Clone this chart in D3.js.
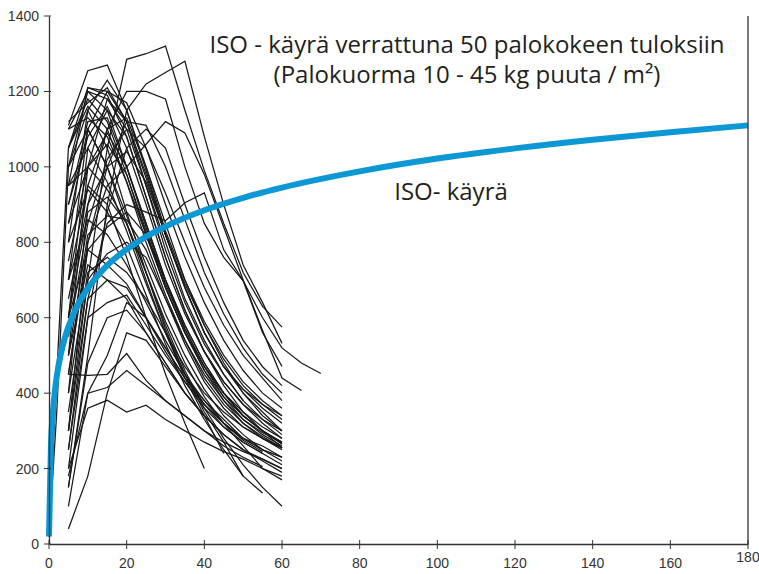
<!DOCTYPE html>
<html>
<head>
<meta charset="utf-8">
<script src="https://cdn.jsdelivr.net/npm/d3@7"></script>
<style>
  html, body { margin: 0; padding: 0; background: #fff; }
  svg { display: block; }
</style>
</head>
<body>
<svg id="chart" width="759" height="574"></svg>
<script>
// ---- Data ----
const xTicks = [0, 20, 40, 60, 80, 100, 120, 140, 160, 180];
const yTicks = [0, 200, 400, 600, 800, 1000, 1200, 1400];

const titleLines = ["ISO - käyrä verrattuna 50 palokokeen tuloksiin", "(Palokuorma 10 - 45 kg puuta / m²)"];
const isoLabel = "ISO- käyrä";

// ISO standard curve (minutes, °C)
const isoMinutes = [0, 0.5, 1, 1.5, 2, 3, 4, 5, 7.5, 10, 15, 20, 25, 30, 40, 50, 60, 80, 100, 120, 140, 160, 180];
const isoTemps   = [20, 261, 349, 404, 445, 502, 544, 576, 636, 678, 739, 781, 815, 842, 885, 918, 945, 988, 1022, 1049, 1072, 1092, 1110];

// 50 fire test curves, sampled at these minutes (null = no reading)
const testMinutes = [0, 2, 5, 10, 15, 20, 25, 30, 35, 40, 45, 50, 55, 60, 65, 70];
const n = null;
const testTemps = [
  [20, n, 300, 700, 1050, 1285, 1300, 1320, 1150, 990, 850, 720, 630, 575],
  [20, n, 150, 500, 900, 1150, 1220, 1250, 1280, 1080, 900, 740, 640, 532],
  [20, n, 1110, 1255, 1270, 1150, 990, 820, 680, 560, 470, 400, 350, 300],
  [20, n, 450, 800, 950, 1000, 1060, 1120, 1090, 980, 840, 700, 566, 440, 407],
  [20, n, 250, 650, 850, 900, 880, 857, 905, 931, 780, 698, 560, 471],
  [20, n, 600, 950, 1100, 1200, 1200, 1180, 1000, 850, 760, 698, 600, 520, 480, 452],
  [20, 350, 1000, 1200, 1180, 1100, 950, 800, 650, 540, 450, 380, 330, 290],
  [20, n, 950, 1210, 1200, 1120, 980, 820, 680, 560, 470, 410, 360, 320],
  [20, n, 800, 1150, 1230, 1150, 1000, 830, 700, 590, 500, 430, 380, 340],
  [20, n, 700, 1100, 1200, 1170, 1050, 900, 760, 640, 540, 460, 400, 360],
  [20, n, 1050, 1180, 1120, 980, 820, 680, 560, 470, 400, 340, 300, 265],
  [20, n, 900, 1080, 1160, 1050, 900, 740, 610, 510, 430, 370, 320, 280],
  [20, n, 500, 1000, 1180, 1120, 950, 780, 640, 530, 450, 380],
  [20, n, 600, 1050, 1150, 1080, 920, 760, 620, 510, 420, 350, 300, 255],
  [20, n, 400, 900, 1100, 1130, 1000, 850, 700, 580, 480, 400, 340, 300],
  [20, n, 1000, 1150, 1050, 880, 720, 570, 450, 350, 270, 180],
  [20, n, 850, 1100, 1000, 850, 700, 560, 440, 340, 240],
  [20, n, 700, 950, 900, 760, 600, 450, 320, 200],
  [20, n, 950, 1000, 940, 850, 720, 590, 480, 390, 320, 260, 200, 170],
  [20, n, 800, 940, 880, 790, 660, 530, 420, 330, 250, 180, 135],
  [20, n, 600, 880, 920, 850, 720, 580, 460, 360, 280, 210, 150, 100],
  [20, n, 1100, 1130, 1080, 960, 820, 680, 560, 460, 390, 340, 300, 270],
  [20, n, 500, 820, 870, 860, 780, 650, 530, 430, 360, 310, 280, 255],
  [20, n, 450, 780, 840, 880, 820, 700, 580, 480, 400, 340, 300, 270],
  [20, n, 350, 700, 770, 800, 760, 650, 540, 450, 380, 330, 295, 270],
  [20, n, 400, 720, 760, 720, 650, 560, 470, 400, 350, 310, 280, 255],
  [20, n, 300, 650, 700, 680, 600, 520, 440, 380, 330, 280, 260, 230],
  [20, n, 250, 600, 640, 660, 580, 500, 430, 370, 320, 280, 250, 230],
  [20, n, 450, 447, 450, 505, 434, 380, 340, 300, 270, 245, 225, 200],
  [20, n, 200, 360, 381, 350, 368, 330, 300, 270, 245, 225, 200, 180],
  [20, n, 180, 400, 415, 460, 420, 380, 340, 300, 260, 230, 205],
  [20, n, 150, 480, 600, 620, 560, 480, 400, 340, 290, 250, 225, 200],
  [20, n, 1100, 1200, 1150, 1000, 850, 700, 580, 480, 400, 340, 300, 265],
  [20, n, 1050, 1210, 1190, 1080, 920, 760, 620, 510, 430, 370, 330, 300],
  [20, n, 900, 1120, 1130, 1000, 840, 690, 570, 470, 400, 350, 310, 280],
  [20, n, 750, 1000, 1090, 1000, 850, 700, 570, 470, 390, 330, 290, 260],
  [20, n, 650, 900, 1000, 1040, 960, 820, 680, 560, 470, 410, 370, 340],
  [20, n, 550, 850, 1020, 1100, 1050, 930, 800, 680, 580, 500, 440, 380],
  [20, n, 300, 800, 1000, 1120, 1110, 1000, 860, 720, 610, 520, 450, 400],
  [20, n, 200, 600, 880, 1050, 1100, 1050, 900, 760, 640, 540, 470, 420],
  [20, n, 1000, 1100, 1000, 870, 740, 610, 500, 410, 340, 290, 250, 220],
  [20, n, 950, 1050, 960, 830, 690, 560, 450, 370, 310, 270, 240],
  [20, n, 850, 1000, 1060, 980, 830, 680, 560, 460, 380, 320, 280, 250],
  [20, 450, 1050, 1160, 1100, 960, 800, 660, 540, 440, 370, 320, 285, 255],
  [20, n, 700, 860, 820, 740, 640, 540, 450, 380, 320, 275, 245],
  [20, n, 600, 780, 740, 690, 600, 510, 430, 360, 310, 270, 240, 210],
  [20, n, 100, 400, 500, 640, 600, 520, 440, 370, 320, 280, 250, 230],
  [20, n, 40, 180, 400, 560, 540, 470, 400, 340, 290, 250, 220, 190],
  [20, n, 500, 740, 700, 650, 560, 480, 400, 340, 290, 250],
  [20, n, 1120, 1170, 1210, 1120, 970, 820, 690, 580, 490, 420, 370, 330]
];

// ---- Drawing ----
const svg = d3.select("#chart");
const x = d3.scaleLinear().domain([0, 180]).range([49, 748]);
const y = d3.scaleLinear().domain([0, 1400]).range([544, 16]);

const lineGen = d3.line()
  .defined(d => d[1] != null)
  .x(d => x(d[0]))
  .y(d => y(d[1]));

const testSeries = testTemps.map(vals => vals.map((v, i) => [testMinutes[i], v]));

svg.append("g")
  .selectAll("path")
  .data(testSeries)
  .join("path")
  .attr("d", lineGen)
  .attr("fill", "none")
  .attr("stroke", "#1a1a1a")
  .attr("stroke-width", 1.25)
  .attr("stroke-linejoin", "miter");

const isoSeries = isoMinutes.map((t, i) => [t, isoTemps[i]]);
svg.append("path")
  .datum(isoSeries)
  .attr("d", d3.line().x(d => x(d[0])).y(d => y(d[1])).curve(d3.curveMonotoneX))
  .attr("fill", "none")
  .attr("stroke", "#0c97d5")
  .attr("stroke-width", 6);

// Axes
const axisColor = "#333";
const xAxis = svg.append("g").attr("transform", `translate(0,${y(0)})`)
  .call(d3.axisBottom(x).tickValues(xTicks).tickSize(0).tickFormat(""));
xAxis.select(".domain").attr("stroke", axisColor).attr("stroke-width", 1.3);
svg.append("g").selectAll("line").data(xTicks).join("line")
  .attr("x1", d => x(d)).attr("x2", d => x(d))
  .attr("y1", y(0) - 4).attr("y2", y(0) + 5)
  .attr("stroke", axisColor).attr("stroke-width", 1);

const yAxis = svg.append("g").attr("transform", `translate(${x(0)},0)`)
  .call(d3.axisLeft(y).tickValues(yTicks).tickSize(0).tickFormat(""));
yAxis.select(".domain").attr("stroke", axisColor).attr("stroke-width", 1.3);
svg.append("g").selectAll("line").data(yTicks).join("line")
  .attr("x1", x(0) - 5).attr("x2", x(0) + 2)
  .attr("y1", d => y(d)).attr("y2", d => y(d))
  .attr("stroke", axisColor).attr("stroke-width", 1);

// right border
svg.append("line")
  .attr("x1", x(180)).attr("x2", x(180))
  .attr("y1", y(1400)).attr("y2", y(0))
  .attr("stroke", axisColor).attr("stroke-width", 1.3);

// Tick labels
const labelFont = "'Liberation Sans', Arial, sans-serif";
svg.append("g").selectAll("text").data(xTicks).join("text")
  .attr("x", d => x(d))
  .attr("y", d => d === 180 ? 562 : 568)
  .attr("text-anchor", "middle")
  .attr("font-family", labelFont)
  .attr("font-size", 14)
  .attr("fill", "#333")
  .text(d => d);

svg.append("g").selectAll("text").data(yTicks).join("text")
  .attr("x", 39)
  .attr("y", d => y(d) + 5)
  .attr("text-anchor", "end")
  .attr("font-family", labelFont)
  .attr("font-size", 14)
  .attr("fill", "#333")
  .text(d => d);

// Title & label
const titleFont = "'Open Sans', 'Noto Sans', sans-serif";
svg.append("g").selectAll("text").data(titleLines).join("text")
  .attr("x", 467)
  .attr("y", (d, i) => 53 + i * 30)
  .attr("text-anchor", "middle")
  .attr("font-family", titleFont)
  .attr("font-size", 24)
  .attr("fill", "#231f20")
  .text(d => d);

svg.append("text")
  .attr("x", 451)
  .attr("y", 200)
  .attr("text-anchor", "middle")
  .attr("font-family", titleFont)
  .attr("font-size", 24)
  .attr("fill", "#231f20")
  .text(isoLabel);
</script>
</body>
</html>
